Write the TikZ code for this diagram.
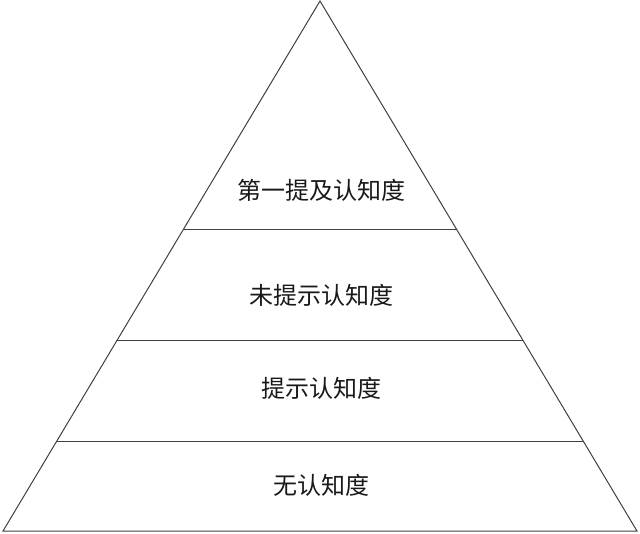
\documentclass[tikz,border=0pt]{standalone}
\usepackage{fontspec}
\newfontfamily\cjk{Noto Sans CJK SC}
\usepackage{tikz}
\usetikzlibrary{calc}
\tikzset{
	edge line/.style={draw=black!75,line width=1pt},
	layer text/.style={font=\cjk\fontsize{24}{28}\selectfont,text=black!90,inner sep=0pt}
}
\begin{document}
\begin{tikzpicture}[x=1pt,y=-1pt]
	\useasboundingbox (0,0) rectangle (640,533);
	\coordinate (top) at (320,1);
	\coordinate (bl) at (3,531);
	\coordinate (br) at (637,531);
	\draw [edge line,line join=miter] (top) -- (br) -- (bl) -- cycle;
	\foreach \t/\n in {0.432/a,0.6415/b,0.832/c}{
		\coordinate (l\n) at ($(top)!\t!(bl)$);
		\coordinate (r\n) at ($(top)!\t!(br)$);
		\draw [edge line] (l\n) -- (r\n);
	}
	\node [layer text] (first) at (321,190) {第一提及认知度};
	\node [layer text] (unaided) at (321,295) {未提示认知度};
	\node [layer text] (aided) at (321,388) {提示认知度};
	\node [layer text] (none) at (321,485) {无认知度};
\end{tikzpicture}
\end{document}
